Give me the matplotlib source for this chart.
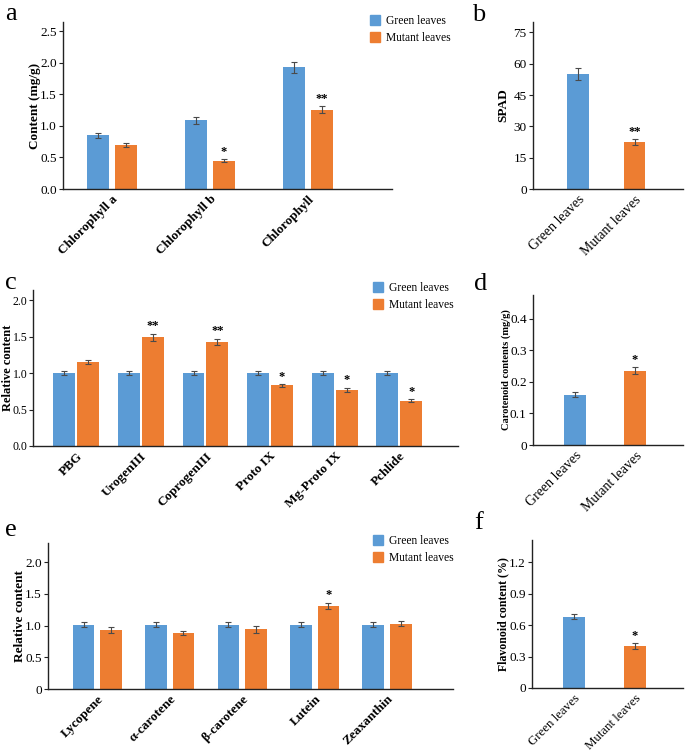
import matplotlib
matplotlib.use("Agg")
import matplotlib.pyplot as plt
import numpy as np
from matplotlib.patches import Patch

plt.rcParams['font.family'] = ['Liberation Serif', 'DejaVu Serif']

BLUE = '#5B9BD5'
ORANGE = '#ED7D31'
ECOL = '#4a4a4a'

# ---------------- data ----------------
a_cats = ['Chlorophyll a', 'Chlorophyll b', 'Chlorophyll']
a_green = [0.85, 1.09, 1.93]
a_green_err = [0.04, 0.06, 0.09]
a_mut = [0.70, 0.45, 1.26]
a_mut_err = [0.03, 0.02, 0.05]
a_sig = ['', '*', '**']

b_cats = ['Green leaves', 'Mutant leaves']
b_vals = [55.0, 22.5]
b_err = [3.0, 1.3]
b_sig = ['', '**']

c_cats = ['PBG', 'UrogenIII', 'CoprogenIII', 'Proto IX', 'Mg-Proto IX', 'Pchlide']
c_green = [1.0, 1.0, 1.0, 1.0, 1.0, 1.0]
c_green_err = [0.03, 0.03, 0.03, 0.03, 0.03, 0.03]
c_mut = [1.15, 1.49, 1.43, 0.83, 0.77, 0.62]
c_mut_err = [0.03, 0.05, 0.04, 0.02, 0.03, 0.02]
c_sig = ['', '**', '**', '*', '*', '*']

d_cats = ['Green leaves', 'Mutant leaves']
d_vals = [0.160, 0.236]
d_err = [0.009, 0.012]
d_sig = ['', '*']

e_cats = ['Lycopene', 'α-carotene', 'β-carotene', 'Lutein', 'Zeaxanthin']
e_green = [1.01, 1.01, 1.01, 1.01, 1.01]
e_green_err = [0.04, 0.04, 0.04, 0.04, 0.04]
e_mut = [0.93, 0.88, 0.94, 1.31, 1.03]
e_mut_err = [0.04, 0.035, 0.05, 0.05, 0.04]
e_sig = ['', '', '', '*', '']

f_cats = ['Green leaves', 'Mutant leaves']
f_vals = [0.68, 0.40]
f_err = [0.025, 0.03]
f_sig = ['', '*']

# ---------------- figure ----------------
W, H = 685, 752
fig = plt.figure(figsize=(W / 100, H / 100), dpi=100)


def rect(l, t, r, b):
    return [l / W, 1 - b / H, (r - l) / W, (b - t) / H]


def style(ax, ylim, yticks, yticklabels, xlim, fs=9.5):
    for s in ['top', 'right']:
        ax.spines[s].set_visible(False)
    for s in ['left', 'bottom']:
        ax.spines[s].set_color('#222222')
        ax.spines[s].set_linewidth(1.0)
    ax.set_ylim(*ylim)
    ax.set_xlim(*xlim)
    ax.set_yticks(yticks)
    ax.set_yticklabels(yticklabels, fontsize=fs)
    ax.tick_params(axis='y', length=3, width=0.8, color='#222222', pad=1.5)
    ax.tick_params(axis='x', length=0, pad=3)


def xlabels(ax, x, cats, fs=9.5, bold=True):
    ax.set_xticks(x)
    ax.set_xticklabels(cats, rotation=45, ha='right', rotation_mode='anchor',
                       fontsize=fs, fontweight='bold' if bold else 'normal')


def ylab(ax, text, fs, xc_px, left_px, right_px):
    ax.set_ylabel(text, fontsize=fs, fontweight='bold')
    ax.yaxis.set_label_coords((xc_px - left_px) / (right_px - left_px), 0.5)
    ax.yaxis.label.set_va('center')


def grouped(ax, cats, g, ge, m, me, sig, width, off, starpad):
    x = np.arange(len(cats))
    ekw = dict(ecolor=ECOL, elinewidth=0.8, capsize=2.5, capthick=0.8)
    ax.bar(x - off, g, width, color=BLUE, yerr=ge, error_kw=ekw, edgecolor='none')
    ax.bar(x + off, m, width, color=ORANGE, yerr=me, error_kw=ekw, edgecolor='none')
    for xi, v, e, s in zip(x, m, me, sig):
        if s:
            ax.text(xi + off, v + e + starpad, s, ha='center', va='bottom',
                    fontsize=9, fontweight='bold')
    return x


def single(ax, cats, vals, err, sig, width, starpad):
    x = np.arange(len(cats))
    ekw = dict(ecolor=ECOL, elinewidth=0.8, capsize=2.5, capthick=0.8)
    ax.bar(x, vals, width, color=[BLUE, ORANGE], yerr=err, error_kw=ekw, edgecolor='none')
    for xi, v, e, s in zip(x, vals, err, sig):
        if s:
            ax.text(xi, v + e + starpad, s, ha='center', va='bottom',
                    fontsize=9, fontweight='bold')
    return x


def legend(ax, x_px, y_px):
    handles = [Patch(color=BLUE, label='Green leaves'),
               Patch(color=ORANGE, label='Mutant leaves')]
    ax.legend(handles=handles, loc='upper left', bbox_to_anchor=(x_px / W, 1 - y_px / H),
              bbox_transform=fig.transFigure, frameon=False, fontsize=8.3,
              handlelength=0.9, handleheight=0.9, handletextpad=0.5,
              labelspacing=0.45, borderpad=0, borderaxespad=0)


# ---- a ----
L, R = 63, 392
ax = fig.add_axes(rect(L, 22, R, 189))
x = grouped(ax, a_cats, a_green, a_green_err, a_mut, a_mut_err, a_sig, 0.224, 0.143, 0.02)
style(ax, (0, 2.65), [0, 0.5, 1.0, 1.5, 2.0, 2.5], ['0.0', '0.5', '1.0', '1.5', '2.0', '2.5'], (-0.5, 2.86))
xlabels(ax, x, a_cats)
ylab(ax, 'Content (mg/g)', 9.5, 35, L, R)
legend(ax, 370, 15)

# ---- b ----
L, R = 533, 683
ax = fig.add_axes(rect(L, 22, R, 189))
x = single(ax, b_cats, b_vals, b_err, b_sig, 0.39, 0.5)
style(ax, (0, 80), [0, 15, 30, 45, 60, 75], ['0', '15', '30', '45', '60', '75'], (-0.8, 1.86))
xlabels(ax, x, b_cats, fs=10, bold=False)
ylab(ax, 'SPAD', 9.5, 503, L, R)

# ---- c ----
L, R = 33, 458
ax = fig.add_axes(rect(L, 290, R, 446))
x = grouped(ax, c_cats, c_green, c_green_err, c_mut, c_mut_err, c_sig, 0.34, 0.185, 0.02)
style(ax, (0, 2.14), [0, 0.5, 1.0, 1.5, 2.0], ['0.0', '0.5', '1.0', '1.5', '2.0'], (-0.67, 5.91), fs=8.5)
ax.tick_params(axis='y', pad=1)
xlabels(ax, x, c_cats)
ylab(ax, 'Relative content', 9, 8, L, R)
legend(ax, 373, 282)

# ---- d ----
L, R = 533, 683
ax = fig.add_axes(rect(L, 295, R, 445))
x = single(ax, d_cats, d_vals, d_err, d_sig, 0.37, 0.003)
style(ax, (0, 0.476), [0, 0.1, 0.2, 0.3, 0.4], ['0', '0.1', '0.2', '0.3', '0.4'], (-0.7, 1.8))
xlabels(ax, x, d_cats, fs=10, bold=False)
ylab(ax, 'Carotenoid contents (mg/g)', 7.5, 506, L, R)

# ---- e ----
L, R = 48, 453
ax = fig.add_axes(rect(L, 543, R, 689))
x = grouped(ax, e_cats, e_green, e_green_err, e_mut, e_mut_err, e_sig, 0.30, 0.19, 0.02)
style(ax, (0, 2.3), [0, 0.5, 1.0, 1.5, 2.0], ['0', '0.5', '1.0', '1.5', '2.0'], (-0.68, 4.91))
xlabels(ax, x, e_cats)
ylab(ax, 'Relative content', 9.5, 20, L, R)
legend(ax, 373, 535)

# ---- f ----
L, R = 532, 683
ax = fig.add_axes(rect(L, 540, R, 688))
x = single(ax, f_cats, f_vals, f_err, f_sig, 0.37, 0.01)
style(ax, (0, 1.41), [0, 0.3, 0.6, 0.9, 1.2], ['0', '0.3', '0.6', '0.9', '1.2'], (-0.7, 1.8))
xlabels(ax, x, f_cats, fs=9.3, bold=False)
ylab(ax, 'Flavonoid content (%)', 8.5, 503, L, R)

# panel letters
for lab, xp, yp in [('a', 5, 14), ('b', 472, 15), ('c', 5, 283), ('d', 474, 284),
                    ('e', 5, 530), ('f', 474, 523)]:
    fig.text(xp / W, 1 - yp / H, lab, fontsize=19, ha='left', va='center')

fig.savefig('out.png', dpi=100)
